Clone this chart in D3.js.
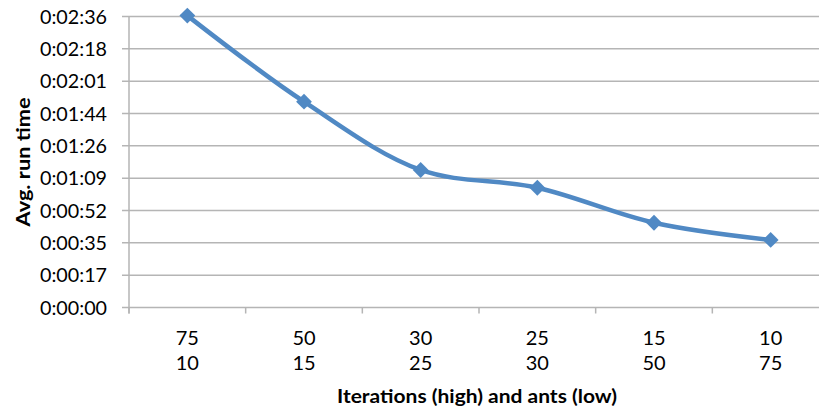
<!DOCTYPE html>
<html>
<head>
<meta charset="utf-8">
<script src="https://cdn.jsdelivr.net/npm/d3@7"></script>
<style>
  body { margin: 0; background: #fff; }
  svg { display: block; font-family: Lato, "Open Sans", "Liberation Sans", sans-serif; }
</style>
</head>
<body>
<div id="chart"></div>
<script>
// data (seconds)
const iterations = ["75", "50", "30", "25", "15", "10"];
const ants = ["10", "15", "25", "30", "50", "75"];
const runTimes = [156, 110, 73.5, 64, 45.3, 36.1];
const yTicks = [0, 17.28, 34.56, 51.84, 69.12, 86.4, 103.68, 120.96, 138.24, 155.52];

const width = 819, height = 410;
const margin = { top: 16.5, right: -10, bottom: 102.5, left: 129 };

const svg = d3.select("#chart").append("svg")
  .attr("width", width)
  .attr("height", height);

const x = d3.scaleBand()
  .domain(d3.range(iterations.length))
  .range([margin.left, width - margin.right]);

const y = d3.scaleLinear()
  .domain([0, 155.52])
  .range([height - margin.bottom, margin.top]);

function fmt(s) {
  const t = Math.round(s);
  const m = Math.floor(t / 60), sec = t % 60;
  return `0:${String(m).padStart(2, "0")}:${String(sec).padStart(2, "0")}`;
}

// grid lines
svg.append("g")
  .selectAll("line")
  .data(yTicks)
  .join("line")
  .attr("x1", margin.left - 7)
  .attr("x2", width)
  .attr("y1", d => y(d))
  .attr("y2", d => y(d))
  .attr("stroke", "#b5b5b5")
  .attr("stroke-width", 1.5);

// y axis line
svg.append("line")
  .attr("x1", margin.left).attr("x2", margin.left)
  .attr("y1", y(155.52)).attr("y2", y(0) + 6)
  .attr("stroke", "#b5b5b5").attr("stroke-width", 1.5);

// x ticks
svg.append("g")
  .selectAll("line")
  .data(d3.range(iterations.length + 1))
  .join("line")
  .attr("x1", i => margin.left + i * x.step())
  .attr("x2", i => margin.left + i * x.step())
  .attr("y1", y(0))
  .attr("y2", y(0) + 6)
  .attr("stroke", "#b5b5b5").attr("stroke-width", 1.5);

// y tick labels
svg.append("g")
  .selectAll("text")
  .data(yTicks)
  .join("text")
  .attr("x", 107)
  .attr("y", d => y(d))
  .attr("dy", "0.35em")
  .attr("text-anchor", "end")
  .attr("textLength", 67)
  .attr("lengthAdjust", "spacingAndGlyphs")
  .style("font-size", "20px")
  .attr("fill", "#000")
  .text(d => fmt(d));

// x tick labels (two lines)
const xl = svg.append("g")
  .selectAll("text")
  .data(iterations)
  .join("text")
  .attr("text-anchor", "middle")
  .style("font-size", "20px")
  .attr("fill", "#000");
xl.append("tspan")
  .attr("x", (d, i) => x(i) + x.bandwidth() / 2)
  .attr("y", 345)
  .text(d => d);
xl.append("tspan")
  .attr("x", (d, i) => x(i) + x.bandwidth() / 2)
  .attr("y", 370)
  .text((d, i) => ants[i]);

// axis titles
svg.append("text")
  .attr("x", 477)
  .attr("y", 403)
  .attr("text-anchor", "middle")
  .attr("textLength", 280)
  .attr("lengthAdjust", "spacingAndGlyphs")
  .style("font-size", "19px")
  .style("font-weight", "bold")
  .text("Iterations (high) and ants (low)");

svg.append("text")
  .attr("transform", "translate(30,162) rotate(-90)")
  .attr("text-anchor", "middle")
  .attr("textLength", 129)
  .attr("lengthAdjust", "spacingAndGlyphs")
  .style("font-size", "19px")
  .style("font-weight", "bold")
  .text("Avg. run time");

// line
const line = d3.line()
  .x((d, i) => x(i) + x.bandwidth() / 2)
  .y(d => y(d))
  .curve(d3.curveCatmullRom.alpha(0.5));

svg.append("path")
  .datum(runTimes)
  .attr("d", line)
  .attr("fill", "none")
  .attr("stroke", "#5089c4")
  .attr("stroke-width", 4.5);

// diamond markers
svg.append("g")
  .selectAll("path")
  .data(runTimes)
  .join("path")
  .attr("d", d3.symbol(d3.symbolSquare, 125))
  .attr("transform", (d, i) => `translate(${x(i) + x.bandwidth() / 2},${y(d)}) rotate(45)`)
  .attr("fill", "#5089c4");
</script>
</body>
</html>
